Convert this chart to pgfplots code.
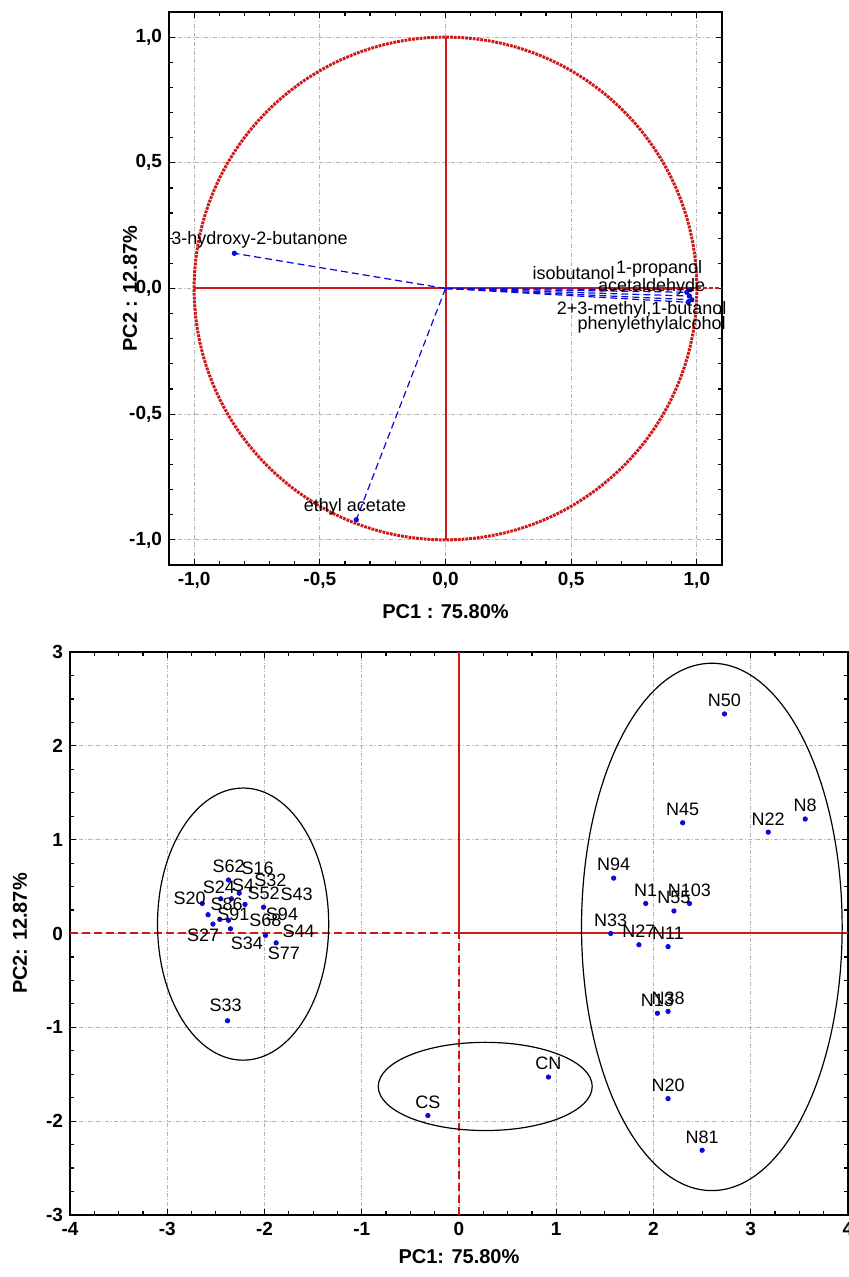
\documentclass[border=0pt]{standalone}
\usepackage{fontspec}
\setmainfont{Liberation Sans}
\usepackage{pgfplots}
\pgfplotsset{compat=1.18}
\definecolor{pcared}{RGB}{205,25,25}
\definecolor{dotblue}{RGB}{10,10,220}

\pgfplotsset{
  pcabase/.style={
    scale only axis,
    axis line style={line width=1pt, black},
    tick style={black, line width=0.6pt},
    major tick length=3pt,
    minor tick length=2pt,
    tick align=inside,
    grid=major,
    major grid style={gray!60, line width=0.4pt, dash pattern=on 2pt off 1pt on 0.4pt off 1pt},
    tick label style={font=\bfseries\fontsize{9.5}{10}\selectfont},
    label style={font=\bfseries\fontsize{10}{12}\selectfont},
  },
  lab/.style={draw=none, mark=none, nodes near coords, point meta=explicit symbolic,
    every node near coord/.append style={font=\fontsize{9}{10}\selectfont, text=black, anchor=center, inner sep=0pt}},
  ablab/.style={only marks, mark=*, mark size=1.1pt, color=dotblue, nodes near coords, point meta=explicit symbolic,
    every node near coord/.append style={font=\fontsize{9}{10}\selectfont, text=black, anchor=south}},
  vec/.style={dotblue, line width=0.6pt, dash pattern=on 3.5pt off 2pt, mark=none},
}

\begin{document}
\begin{tikzpicture}
% ---------------- top: loadings ----------------
\begin{axis}[pcabase, at={(84.5pt,356pt)}, anchor=south west,
  width=276.5pt, height=276.5pt,
  xmin=-1.1, xmax=1.1, ymin=-1.1, ymax=1.1,
  xtick={-1,-0.5,0,0.5,1}, xticklabels={{-1,0},{-0,5},{0,0},{0,5},{1,0}},
  ytick={-1,-0.5,0,0.5,1}, yticklabels={{-1,0},{-0,5},{0,0},{0,5},{1,0}},
  minor tick num=4,
  xlabel={PC1 : 75.80\%}, ylabel={PC2 : 12.87\%},
  xlabel style={at={(axis description cs:0.5,-0.085)}, anchor=center},
  ylabel style={at={(axis description cs:-0.0705,0.5)}, anchor=center},
]
\addplot[pcared, line width=1pt, mark=none] coordinates {(-1,0) (1,0)};
\addplot[pcared, line width=1pt, mark=none, dash pattern=on 2pt off 1pt] coordinates {(1,0) (1.1,0)};
\addplot[pcared, line width=1pt, mark=none] coordinates {(0,-1) (0,1)};
\draw[pcared, line width=1.5pt, dash pattern=on 1.4pt off 0.5pt] (axis cs:0,0) ellipse [x radius=1, y radius=1];
\addplot[vec] coordinates {(0,0) (-0.84,0.14)};
\addplot[vec] coordinates {(0,0) (-0.355,-0.92)};
\addplot[vec] coordinates {(0,0) (0.96,-0.015)};
\addplot[vec] coordinates {(0,0) (0.975,-0.005)};
\addplot[vec] coordinates {(0,0) (0.97,-0.03)};
\addplot[vec] coordinates {(0,0) (0.98,-0.045)};
\addplot[vec] coordinates {(0,0) (0.965,-0.055)};
\addplot[only marks, mark=*, mark size=1.1pt, dotblue] table {
x y
-0.84 0.14
-0.355 -0.92
0.96 -0.015
0.975 -0.005
0.97 -0.03
0.98 -0.045
0.965 -0.055
};
\addplot[lab] table[meta=label] {
x y label
-0.74 0.195 3-hydroxy-2-butanone
-0.36 -0.87 {ethyl acetate}
0.51 0.06 isobutanol
0.85 0.08 1-propanol
0.82 0.005 acetaldehyde
0.78 -0.085 2+3-methyl,1-butanol
0.82 -0.145 phenylethylalcohol
};
\end{axis}

% ---------------- bottom: scores ----------------
\begin{axis}[pcabase, at={(35pt,31pt)}, anchor=south west,
  width=389pt, height=281.5pt,
  xmin=-4, xmax=4, ymin=-3, ymax=3,
  xtick={-4,-3,-2,-1,0,1,2,3,4}, xticklabels={-4,-3,-2,-1,0,1,2,3,4},
  ytick={-3,-2,-1,0,1,2,3}, yticklabels={-3,-2,-1,0,1,2,3},
  minor tick num=3,
  xlabel={PC1: 75.80\%}, ylabel={PC2: 12.87\%},
  xlabel style={at={(axis description cs:0.5,-0.0746)}, anchor=center},
  ylabel style={at={(axis description cs:-0.0643,0.5)}, anchor=center},
]
\addplot[pcared, line width=1pt, mark=none, dash pattern=on 4pt off 2pt] coordinates {(-4,0) (0,0)};
\addplot[pcared, line width=1pt, mark=none] coordinates {(0,0) (4,0)};
\addplot[pcared, line width=1pt, mark=none] coordinates {(0,0) (0,3)};
\addplot[pcared, line width=1pt, mark=none, dash pattern=on 4pt off 2pt] coordinates {(0,-3) (0,0)};
\draw[black, line width=0.6pt] (axis cs:-2.22,0.1) ellipse [x radius=0.88, y radius=1.45];
\draw[black, line width=0.6pt] (axis cs:0.27,-1.63) ellipse [x radius=1.10, y radius=0.47];
\draw[black, line width=0.6pt] (axis cs:2.6,0.07) ellipse [x radius=1.34, y radius=2.81];
% S group dots
\addplot[only marks, mark=*, mark size=1.1pt, dotblue] table {
x y
-2.37 0.57
-2.26 0.43
-2.45 0.37
-2.34 0.37
-2.64 0.32
-2.20 0.31
-2.01 0.28
-2.58 0.20
-2.46 0.15
-2.53 0.10
-2.37 0.14
-2.35 0.05
-1.99 -0.02
-1.88 -0.10
-2.38 -0.93
};
% S group labels
\addplot[lab] table[meta=label] {
x y label
-2.37 0.72 S62
-2.07 0.69 S16
-2.47 0.49 S24
-2.22 0.51 S4
-1.94 0.57 S32
-2.77 0.38 S20
-2.39 0.31 S86
-2.01 0.43 S52
-1.67 0.42 S43
-2.32 0.20 S91
-1.82 0.20 S94
-1.99 0.14 S68
-2.63 -0.02 S27
-2.18 -0.10 S34
-1.65 0.02 S44
-1.80 -0.21 S77
-2.40 -0.76 S33
};
% N and C groups
\addplot[ablab] table[meta=label] {
x y label
2.73 2.34 N50
2.30 1.18 N45
3.18 1.08 N22
3.56 1.22 N8
1.59 0.59 N94
1.92 0.32 N1
2.37 0.32 N103
2.21 0.24 N55
1.56 0.00 N33
1.85 -0.12 N27
2.15 -0.14 N11
2.04 -0.85 N13
2.15 -0.83 N38
2.15 -1.76 N20
2.50 -2.31 N81
0.92 -1.53 CN
-0.32 -1.94 CS
};
\end{axis}
\pgfresetboundingbox
\path[use as bounding box] (0,0) rectangle (424pt,638.5pt);
\end{tikzpicture}
\end{document}
